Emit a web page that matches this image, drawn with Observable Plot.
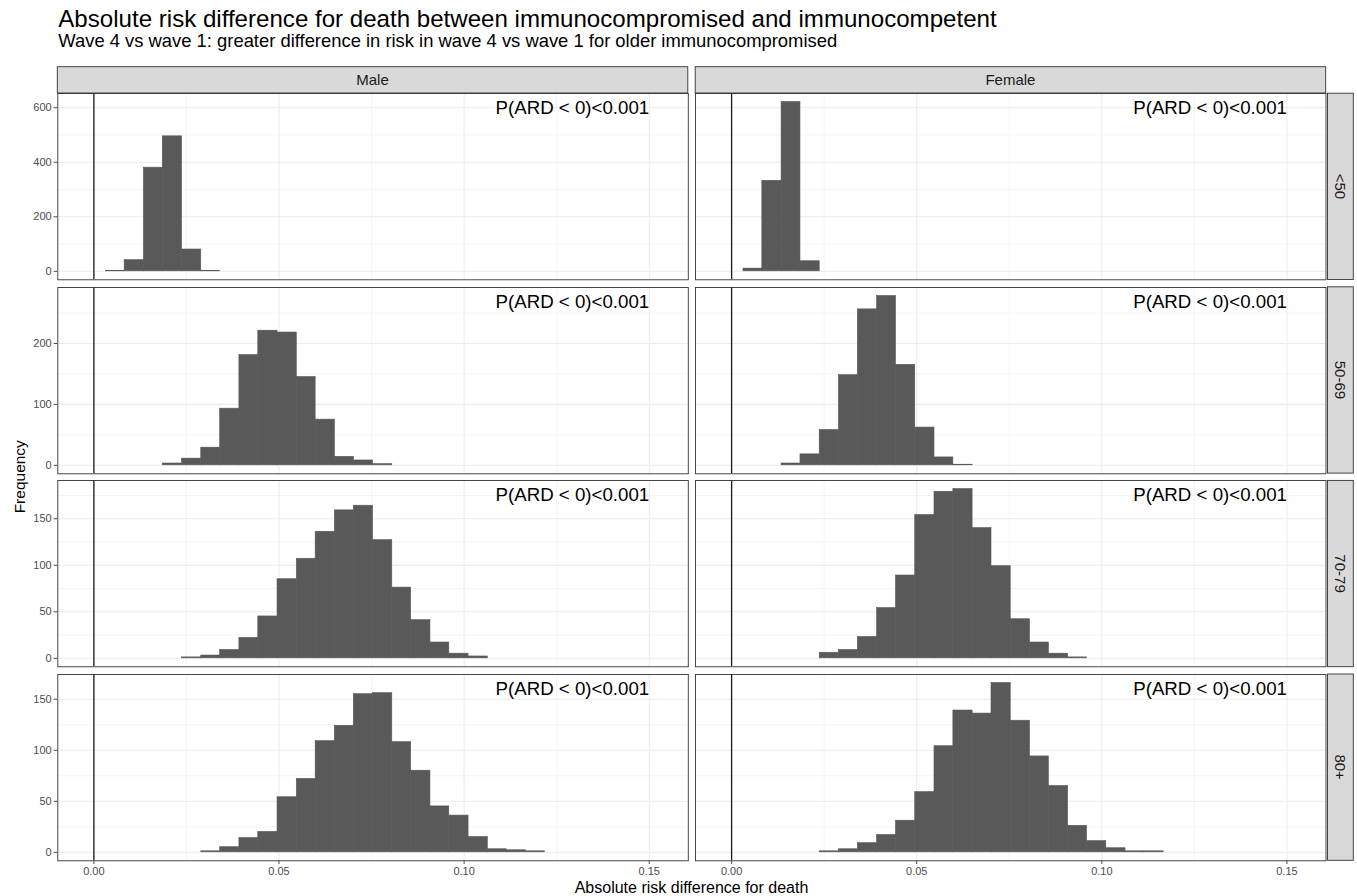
<!DOCTYPE html>
<html>
<head>
<meta charset="utf-8">
<script src="https://cdn.jsdelivr.net/npm/d3@7"></script>
<script src="https://cdn.jsdelivr.net/npm/@observablehq/plot@0.6"></script>
<style>
  html, body { margin: 0; padding: 0; background: #fff; }
  #wrap { position: relative; width: 1357px; height: 896px; overflow: hidden; font-family: "Liberation Sans", Arial, sans-serif; }
  #wrap > svg, #wrap > div { position: absolute; }
  #wrap svg { overflow: visible; }
</style>
</head>
<body>
<div id="wrap"></div>
<script>
// ---------------- data ----------------
const title = "Absolute risk difference for death between immunocompromised and immunocompetent";
const subtitle = "Wave 4 vs wave 1: greater difference in risk in wave 4 vs wave 1 for older immunocompromised";
const xTitle = "Absolute risk difference for death";
const yTitle = "Frequency";
const sexes = ["Male", "Female"];
const ageGroups = ["<50", "50-69", "70-79", "80+"];
const pLabel = "P(ARD < 0)<0.001";
const pLabelX = 0.15;

// histogram bin edges (shared by every panel)
const binEdges = [-0.0020, 0.0032, 0.0083, 0.0135, 0.0186, 0.0238, 0.0290, 0.0341, 0.0393, 0.0444,
                  0.0496, 0.0548, 0.0599, 0.0651, 0.0702, 0.0754, 0.0806, 0.0857, 0.0909, 0.0960,
                  0.1012, 0.1064, 0.1115, 0.1167, 0.1218, 0.1270, 0.1322, 0.1373, 0.1425, 0.1476, 0.1528];

// counts per bin
const male_lt50     = [0,2,41,380,495,80,2,0,0,0, 0,0,0,0,0,0,0,0,0,0, 0,0,0,0,0,0,0,0,0,0];
const female_lt50   = [0,10,332,621,37,0,0,0,0,0, 0,0,0,0,0,0,0,0,0,0, 0,0,0,0,0,0,0,0,0,0];
const male_50_69    = [0,0,0,0,3,11,29,93,181,221, 218,145,75,14,8,2,0,0,0,0, 0,0,0,0,0,0,0,0,0,0];
const female_50_69  = [0,0,0,3,18,58,148,256,278,165, 62,13,1,0,0,0,0,0,0,0, 0,0,0,0,0,0,0,0,0,0];
const male_70_79    = [0,0,0,0,0,1,3,9,22,45, 85,107,136,159,164,127,76,41,17,5, 2,0,0,0,0,0,0,0,0,0];
const female_70_79  = [0,0,0,0,0,6,9,23,54,89, 154,179,182,140,99,42,17,5,1,0, 0,0,0,0,0,0,0,0,0,0];
const male_80p      = [0,0,0,0,0,0,1,5,14,20, 54,72,109,124,155,156,108,80,45,36, 15,3,2,1,0,0,0,0,0,0];
const female_80p    = [0,0,0,0,0,1,3,9,17,31, 59,104,139,136,166,129,94,65,26,11, 4,1,1,0,0,0,0,0,0,0];

// axis ticks
const xTicks = [0, 0.05, 0.10, 0.15];
const xMinor = [0.025, 0.075, 0.125];
const yTicks_lt50 = [0, 200, 400, 600];   const yMinor_lt50 = [100, 300, 500];
const yTicks_50_69 = [0, 100, 200];       const yMinor_50_69 = [50, 150, 250];
const yTicks_70_79 = [0, 50, 100, 150];   const yMinor_70_79 = [25, 75, 125, 175];
const yTicks_80p = [0, 50, 100, 150];     const yMinor_80p = [25, 75, 125];

// ---------------- layout ----------------
const FONT = '"Liberation Sans", Arial, sans-serif';
const W = 630.5, H = 186.3;
const panelLeft = [57.3, 695.2];
const rowTop = [93.2, 286.8, 480.4, 674.0];
const stripTop = 66.7, stripH = 26.3;
const rStripX = 1327.5, rStripW = 25.8;
const xDomain = [-0.00975, 0.16055];

const rows = [
  {counts: [male_lt50, female_lt50], ticks: yTicks_lt50, minor: yMinor_lt50},
  {counts: [male_50_69, female_50_69], ticks: yTicks_50_69, minor: yMinor_50_69},
  {counts: [male_70_79, female_70_79], ticks: yTicks_70_79, minor: yMinor_70_79},
  {counts: [male_80p, female_80p], ticks: yTicks_80p, minor: yMinor_80p}
];

const wrap = document.getElementById("wrap");

function panel(counts, yMax, ticks, minor, isLeft, isBottom) {
  const bars = counts.map((n, i) => ({x1: binEdges[i], x2: binEdges[i + 1], y1: 0, y2: n})).filter(d => d.y2 > 0);
  const ml = isLeft ? 57.3 : 0, mb = isBottom ? 26 : 0;
  return Plot.plot({
    width: W + ml, height: H + mb,
    marginLeft: ml, marginRight: 0, marginTop: 0, marginBottom: mb,
    style: {background: "transparent", color: "#4D4D4D", fontFamily: FONT, fontSize: "11px", overflow: "visible"},
    x: {domain: xDomain, axis: null},
    y: {domain: [-0.05 * yMax, 1.05 * yMax], axis: null},
    marks: [
      Plot.ruleX(xMinor, {stroke: "#EBEBEB", strokeWidth: 0.55}),
      Plot.ruleY(minor, {stroke: "#EBEBEB", strokeWidth: 0.55}),
      Plot.ruleX(xTicks, {stroke: "#EBEBEB", strokeWidth: 1.07}),
      Plot.ruleY(ticks, {stroke: "#EBEBEB", strokeWidth: 1.07}),
      Plot.rect(bars, {x1: "x1", x2: "x2", y1: "y1", y2: "y2", fill: "#595959", stroke: "#595959", strokeWidth: 0.6}),
      Plot.ruleX([0], {stroke: "#1a1a1a", strokeWidth: 1.3}),
      Plot.text([pLabel], {x: pLabelX, frameAnchor: "top", dy: 15, lineAnchor: "middle", textAnchor: "end", fontSize: 18.7, fill: "#000"}),
      Plot.frame({stroke: "#333", strokeWidth: 0.9}),
      isLeft ? Plot.axisY(ticks, {anchor: "left", tickSize: 3.7, tickPadding: 2.5, label: null, fontSize: 11}) : null,
      isBottom ? Plot.axisX(xTicks, {anchor: "bottom", tickSize: 3.7, tickPadding: 2.5, label: null, fontSize: 11, tickFormat: d3.format(".2f")}) : null
    ]
  });
}

rows.forEach((row, r) => {
  const yMax = d3.max(row.counts.flat());
  row.counts.forEach((c, s) => {
    const isLeft = s === 0, isBottom = r === rows.length - 1;
    const svg = panel(c, yMax, row.ticks, row.minor, isLeft, isBottom);
    svg.style.position = "absolute";
    svg.style.left = (isLeft ? 0 : panelLeft[s]) + "px";
    svg.style.top = rowTop[r] + "px";
    wrap.appendChild(svg);
  });
});

// ---------------- overlay: titles, strips, axis titles ----------------
const ov = d3.select(wrap).append("svg")
  .attr("width", 1357).attr("height", 896)
  .style("left", "0px").style("top", "0px")
  .style("font-family", FONT);

ov.append("text").attr("x", 58.3).attr("y", 26.7).attr("font-size", 24.1).attr("fill", "#000").text(title);
ov.append("text").attr("x", 58.3).attr("y", 47.2).attr("font-size", 18.4).attr("fill", "#000").text(subtitle);

sexes.forEach((s, i) => {
  ov.append("rect").attr("x", panelLeft[i]).attr("y", stripTop).attr("width", W).attr("height", stripH)
    .attr("fill", "#D9D9D9").attr("stroke", "#333").attr("stroke-width", 0.9);
  ov.append("text").attr("x", panelLeft[i] + W / 2).attr("y", stripTop + stripH / 2)
    .attr("dy", "0.35em").attr("text-anchor", "middle").attr("font-size", 15).attr("fill", "#1A1A1A").text(s);
});

ageGroups.forEach((a, i) => {
  ov.append("rect").attr("x", rStripX).attr("y", rowTop[i]).attr("width", rStripW).attr("height", H)
    .attr("fill", "#D9D9D9").attr("stroke", "#333").attr("stroke-width", 0.9);
  const cx = rStripX + rStripW / 2, cy = rowTop[i] + H / 2;
  ov.append("text").attr("transform", `translate(${cx},${cy}) rotate(90)`)
    .attr("dy", "0.35em").attr("text-anchor", "middle").attr("font-size", 15).attr("fill", "#1A1A1A").text(a);
});

ov.append("text").attr("x", (panelLeft[0] + panelLeft[1] + W) / 2).attr("y", 893)
  .attr("text-anchor", "middle").attr("font-size", 16).attr("fill", "#000").text(xTitle);
ov.append("text").attr("transform", `translate(24.5,${(rowTop[0] + rowTop[3] + H) / 2}) rotate(-90)`)
  .attr("text-anchor", "middle").attr("font-size", 15.5).attr("fill", "#000").text(yTitle);
</script>
</body>
</html>
